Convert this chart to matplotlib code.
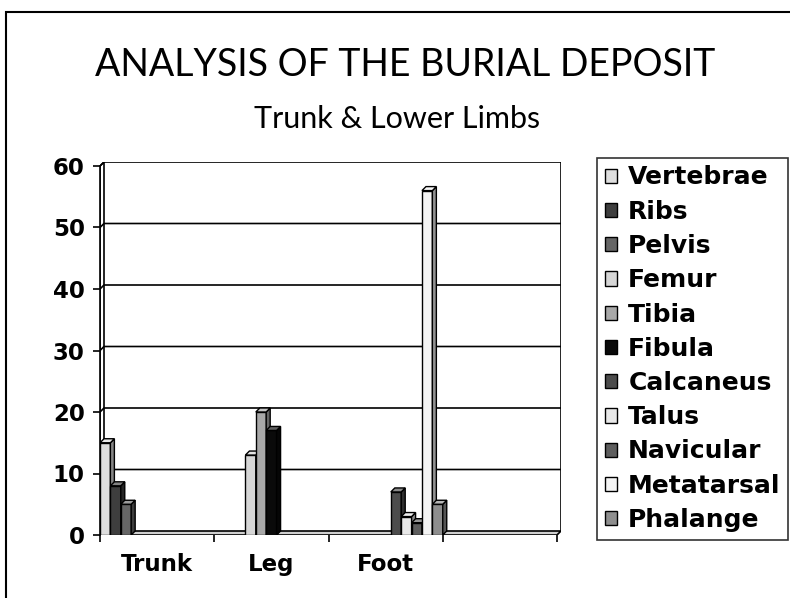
import numpy as np
import matplotlib
matplotlib.use("Agg")
import matplotlib.pyplot as plt
from matplotlib.patches import Polygon, Rectangle, Patch

# bone counts per body region
regions = ["Trunk", "Leg", "Foot", ""]
bones = ["Vertebrae", "Ribs", "Pelvis", "Femur", "Tibia", "Fibula",
         "Calcaneus", "Talus", "Navicular", "Metatarsal", "Phalange"]
trunk = [15, 8, 5, 0, 0, 0, 0, 0, 0, 0, 0]
leg = [0, 0, 0, 13, 20, 17, 0, 0, 0, 0, 0]
foot = [0, 0, 0, 0, 0, 0, 7, 3, 2, 56, 5]
blank = [0] * 11
counts = [trunk, leg, foot, blank]

shades = ["#dedede", "#3e3e3e", "#666666", "#d6d6d6", "#a8a8a8", "#0a0a0a",
          "#4c4c4c", "#e8e8e8", "#5e5e5e", "#f4f4f4", "#8e8e8e"]


def darker(c, f=0.6):
    r, g, b = matplotlib.colors.to_rgb(c)
    return (r * f, g * f, b * f)


def lighter(c, f=0.35):
    r, g, b = matplotlib.colors.to_rgb(c)
    return (r + (1 - r) * f, g + (1 - g) * f, b + (1 - b) * f)


W, H = 790, 598
fig = plt.figure(figsize=(W / 100, H / 100), dpi=100)

# outer chart border (right and bottom run off the page)
fig.patches.append(Rectangle((6 / W, -0.05), 1.0, (H - 12) / H + 0.05,
                             transform=fig.transFigure, fill=False,
                             lw=1.5, ec="black"))

fig.text(405 / W, (H - 76) / H, "ANALYSIS OF THE BURIAL DEPOSIT",
         family="Lato", fontsize=27, ha="center", va="baseline")
fig.text(397 / W, (H - 128) / H, "Trunk & Lower Limbs",
         family="Lato", fontsize=22, ha="center", va="baseline")

# plot box in pixels: front plane 100..557, depth offset 4 px
DX, DY = 4, 4
x0, x1, yb, yt = 100, 561, 535, 162
ax = fig.add_axes([x0 / W, (H - yb) / H, (x1 - x0) / W, (yb - yt) / H])
ncat = len(regions)
px_cat = (x1 - DX - x0) / ncat
ymax = 60
px_unit = (yb - DY - yt) / ymax
dx = DX / px_cat
dy = DY / px_unit
ax.set_xlim(0, ncat + dx)
ax.set_ylim(0, ymax + dy)
ax.patch.set_visible(False)

# floor and side wall
ax.add_patch(Polygon([(0, 0), (dx, dy), (ncat + dx, dy), (ncat, 0)],
                     closed=True, fc="#cfcfcf", ec="black", lw=1.2, zorder=1))
ax.add_patch(Polygon([(0, 0), (dx, dy), (dx, ymax + dy), (0, ymax)],
                     closed=True, fc="white", ec="black", lw=1.2, zorder=1))
# back wall edges and gridlines
ax.plot([ncat + dx, ncat + dx], [dy, ymax + dy], color="black", lw=1.2, zorder=1)
for g in range(10, ymax + 1, 10):
    ax.plot([0, dx, ncat + dx], [g, g + dy, g + dy], color="black",
            lw=1.2, zorder=1)

# 3D-look columns, drawn left to right so each covers its neighbour's side
bw = 1 / len(bones)
for c, vals in enumerate(counts):
    for s, v in enumerate(vals):
        if v <= 0:
            continue
        xl = c + s * bw
        col = shades[s]
        ax.bar(xl, v, bw, align="edge", color=col, ec="black", lw=1, zorder=3)
        ax.add_patch(Polygon([(xl + bw, 0), (xl + bw + dx, dy),
                              (xl + bw + dx, v + dy), (xl + bw, v)],
                             closed=True, fc=darker(col), ec="black",
                             lw=1, zorder=3))
        ax.add_patch(Polygon([(xl, v), (xl + dx, v + dy),
                              (xl + bw + dx, v + dy), (xl + bw, v)],
                             closed=True, fc=lighter(col), ec="black",
                             lw=1, zorder=3))

for side in ["top", "right", "bottom"]:
    ax.spines[side].set_visible(False)
ax.spines["left"].set_bounds(0, ymax)
ax.spines["left"].set_linewidth(1.2)

tick_font = dict(family="DejaVu Sans", weight="bold", size=16.5)
ax.set_yticks(np.arange(0, ymax + 1, 10))
ax.set_yticklabels([str(t) for t in range(0, ymax + 1, 10)], **tick_font)
ax.tick_params(axis="y", length=5, width=1.2, pad=6)

ax.set_xticks(np.arange(ncat + 1))
ax.set_xticklabels([])
ax.tick_params(axis="x", which="major", length=5, width=1.2)
ax.set_xticks(np.arange(ncat) + 0.5, minor=True)
ax.set_xticklabels(regions, minor=True, **tick_font)
ax.tick_params(axis="x", which="minor", length=0, pad=13)

handles = [Patch(fc=shades[i], ec="black", lw=1) for i in range(len(bones))]
fig.legend(handles, bones, loc="upper left",
           bbox_to_anchor=(597 / W, (H - 158) / H), borderaxespad=0,
           frameon=True, fancybox=False, edgecolor="black",
           prop=dict(family="DejaVu Sans", weight="bold", size=18),
           handlelength=0.5, handleheight=0.5, handletextpad=0.45,
           labelspacing=0.41, borderpad=0.3)
fig.legends[0].get_frame().set_linewidth(1.2)

fig.savefig("out.png", dpi=100)
